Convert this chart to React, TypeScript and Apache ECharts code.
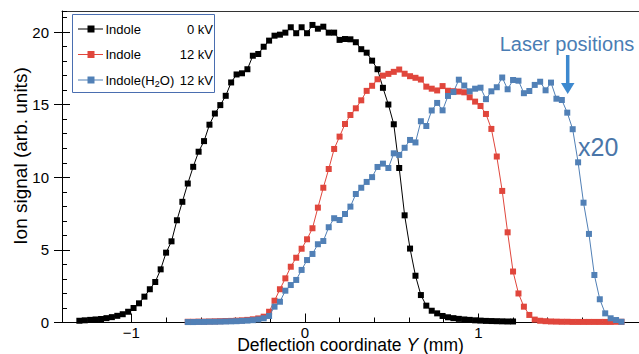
import React, { useEffect, useRef } from "react";
import * as echarts from "echarts";

// Scan positions (mm) shared by the three measurements
const scanPositionsMm = [
  -1.3, -1.26875, -1.2375, -1.20625, -1.175, -1.14375, -1.1125, -1.08125, -1.05, -1.01875,
  -0.9875, -0.95625, -0.925, -0.89375, -0.8625, -0.83125, -0.8, -0.76875, -0.7375, -0.70625,
  -0.675, -0.64375, -0.6125, -0.58125, -0.55, -0.51875, -0.4875, -0.45625, -0.425, -0.39375,
  -0.3625, -0.33125, -0.3, -0.26875, -0.2375, -0.20625, -0.175, -0.14375, -0.1125, -0.08125,
  -0.05, -0.01875, 0.0125, 0.04375, 0.075, 0.10625, 0.1375, 0.16875, 0.2, 0.23125,
  0.2625, 0.29375, 0.325, 0.35625, 0.3875, 0.41875, 0.45, 0.48125, 0.5125, 0.54375,
  0.575, 0.60625, 0.6375, 0.66875, 0.7, 0.73125, 0.7625, 0.79375, 0.825, 0.85625,
  0.8875, 0.91875, 0.95, 0.98125, 1.0125, 1.04375, 1.075, 1.10625, 1.1375, 1.16875,
  1.2, 1.23125, 1.2625, 1.29375, 1.325, 1.35625, 1.3875, 1.41875, 1.45, 1.48125,
  1.5125, 1.54375, 1.575, 1.60625, 1.6375, 1.66875, 1.7, 1.73125, 1.7625, 1.79375,
  1.825,
];

// Indole 0 kV: scan positions 0..80
const indole0kV = [
  0.12, 0.15, 0.18, 0.21, 0.24, 0.3, 0.37, 0.46, 0.57, 0.74,
  1.0, 1.32, 1.78, 2.29, 2.79, 3.66, 4.81, 5.59, 7.04, 8.31,
  9.57, 10.72, 11.76, 12.49, 13.62, 14.39, 14.97, 15.61, 16.53, 17.08,
  17.16, 17.44, 18.37, 18.49, 18.99, 19.41, 19.75, 19.82, 19.96, 20.33,
  19.92, 20.33, 19.92, 20.49, 20.23, 20.37, 19.96, 19.96, 19.46, 19.52,
  19.5, 19.3, 18.82, 18.58, 18.03, 17.44, 16.16, 15.01, 13.65, 10.64,
  7.38, 5.09, 3.22, 1.89, 1.16, 0.81, 0.63, 0.45, 0.36, 0.3,
  0.25, 0.21, 0.18, 0.15, 0.13, 0.11, 0.1, 0.09, 0.08, 0.07, 0.07,
];

// Indole 12 kV: scan positions 20..100
const indole12kV = [
  0.05, 0.05, 0.06, 0.06, 0.07, 0.08, 0.09, 0.1, 0.11, 0.13,
  0.15, 0.18, 0.22, 0.28, 0.4, 0.74, 1.5, 2.29, 3.04, 3.84,
  4.46, 5.08, 5.73, 6.49, 7.91, 9.28, 10.57, 11.95, 12.8, 13.67,
  14.29, 14.75, 15.3, 15.95, 16.3, 16.75, 17.0, 17.12, 17.26, 17.42,
  17.13, 16.96, 16.85, 16.73, 16.24, 16.1, 15.98, 16.28, 15.96, 15.93,
  15.9, 15.85, 15.51, 15.21, 14.91, 14.36, 13.33, 11.43, 9.06, 6.21,
  3.51, 2.0, 1.09, 0.52, 0.2, 0.12, 0.09, 0.07, 0.06, 0.05,
  0.05, 0.04, 0.04, 0.04, 0.04, 0.04, 0.04, 0.04, 0.04, 0.05, 0.05,
];

// Indole(H2O) 12 kV (x20): scan positions 20..100
const indoleWater12kV = [
  0.03, 0.03, 0.04, 0.04, 0.05, 0.05, 0.06, 0.07, 0.08, 0.09,
  0.11, 0.13, 0.16, 0.21, 0.29, 0.45, 1.09, 1.43, 2.19, 2.58,
  2.93, 3.62, 4.3, 4.72, 5.39, 5.61, 6.56, 7.18, 7.06, 7.47,
  7.98, 8.85, 9.28, 9.68, 10.01, 10.71, 10.94, 10.64, 11.65, 11.54,
  12.03, 12.57, 12.4, 13.86, 13.53, 14.6, 15.12, 14.61, 15.6, 15.87,
  16.72, 16.32, 15.92, 16.1, 16.17, 15.38, 15.92, 16.2, 16.87, 16.06,
  16.7, 16.65, 15.79, 15.94, 16.36, 16.58, 15.99, 16.52, 15.41, 15.32,
  14.45, 13.31, 11.03, 8.25, 6.1, 3.27, 1.6, 0.63, 0.29, 0.17, 0.05,
];

const shiftedStart = 20;
const xMajorTicks = [-1, 0, 1];
const yMajorTicks = [0, 5, 10, 15, 20];
const seriesNames = ["Indole 0 kV", "Indole 12 kV", "Indole(H2O) 12 kV"];
const legendVoltages = ["0 kV", "12 kV", "12 kV"];

const X_MIN = -1.4;
const X_MAX = 1.926;
const Y_MIN = 0;
const Y_MAX = 21.45;

const FONT = '"Liberation Sans", Arial, Helvetica, sans-serif';
const BLACK = "#000000";
const RED = "#e0463c";
const BLUE = "#5180b6";
const colors = [BLACK, RED, BLUE];

const GRID = { left: 62, top: 11, width: 577, height: 311.5 };

export default function App() {
  const ref = useRef<HTMLDivElement>(null);

  useEffect(() => {
    const chart = echarts.init(ref.current!, null, { renderer: "svg" });

    const d0 = indole0kV.map((v, i) => [scanPositionsMm[i], v]);
    const d1 = indole12kV.map((v, i) => [scanPositionsMm[i + shiftedStart], v]);
    const d2 = indoleWater12kV.map((v, i) => [scanPositionsMm[i + shiftedStart], v]);
    const datasets = [d0, d1, d2];

    const baseX = {
      type: "value",
      min: X_MIN,
      max: X_MAX,
      splitLine: { show: false },
    };
    const baseY = {
      type: "value",
      min: Y_MIN,
      max: Y_MAX,
      splitLine: { show: false },
    };

    const legendRows = [29, 54.5, 80];
    const legendGraphics: any[] = [
      {
        type: "rect",
        shape: { x: 72.5, y: 14.5, width: 142, height: 78 },
        style: { fill: "#ffffff", stroke: "#4a6eb0", lineWidth: 1 },
        z: 10,
      },
    ];
    legendRows.forEach((y, i) => {
      legendGraphics.push({
        type: "line",
        shape: { x1: 78, y1: y, x2: 103, y2: y },
        style: { stroke: colors[i], lineWidth: 1 },
        z: 11,
      });
      legendGraphics.push({
        type: "rect",
        shape: { x: 87.5, y: y - 3.5, width: 7, height: 7 },
        style: { fill: colors[i] },
        z: 12,
      });
      legendGraphics.push({
        type: "text",
        x: 213,
        y,
        style: {
          text: legendVoltages[i],
          align: "right",
          verticalAlign: "middle",
          fontSize: 13,
          fontFamily: FONT,
          fill: "#000",
        },
        z: 12,
      });
    });
    const lt = { fontSize: 13, fontFamily: FONT, fill: "#000", verticalAlign: "middle" };
    legendGraphics.push(
      { type: "text", x: 105.5, y: legendRows[0], style: { ...lt, text: "Indole" }, z: 12 },
      { type: "text", x: 105.5, y: legendRows[1], style: { ...lt, text: "Indole" }, z: 12 },
      { type: "text", x: 105.5, y: legendRows[2], style: { ...lt, text: "Indole(H" }, z: 12 },
      {
        type: "text",
        x: 154.8,
        y: legendRows[2] + 4,
        style: { ...lt, fontSize: 9, text: "2" },
        z: 12,
      },
      { type: "text", x: 159.8, y: legendRows[2], style: { ...lt, text: "O)" }, z: 12 }
    );

    const option: any = {
      animation: false,
      backgroundColor: "#ffffff",
      grid: [GRID, GRID, GRID].map((g) => ({
        ...g,
        containLabel: false,
        outerBoundsMode: "none",
      })),
      xAxis: [
        {
          ...baseX,
          gridIndex: 0,
          position: "bottom",
          interval: 0.2,
          axisLine: { show: true, onZero: false, lineStyle: { color: "#000", width: 1 } },
          axisTick: { show: true, inside: true, length: 5, lineStyle: { color: "#000", width: 1 } },
          axisLabel: { show: false },
        },
        {
          ...baseX,
          gridIndex: 1,
          position: "bottom",
          axisLine: { show: false, onZero: false },
          axisTick: {
            show: true,
            inside: true,
            length: 9,
            customValues: xMajorTicks,
            lineStyle: { color: "#000", width: 1 },
          },
          axisLabel: {
            show: true,
            customValues: xMajorTicks,
            margin: 3.5,
            fontSize: 15,
            lineHeight: 12,
            fontFamily: FONT,
            color: "#000",
            formatter: (v: number) => (v < 0 ? "\u2212" + Math.abs(v) : String(v)),
          },
          name: "Deflection coordinate {i|Y} (mm)",
          nameLocation: "middle",
          nameGap: 15,
          nameMoveOverlap: false,
          nameTextStyle: {
            fontSize: 17.5,
            lineHeight: 14,
            fontFamily: FONT,
            color: "#000",
            rich: {
              i: {
                fontSize: 17.5,
                lineHeight: 14,
                fontFamily: FONT,
                fontStyle: "italic",
                color: "#000",
              },
            },
          },
        },
        {
          ...baseX,
          gridIndex: 2,
          position: "top",
          axisLine: { show: true, onZero: false, lineStyle: { color: "#333", width: 1 } },
          axisTick: { show: false },
          axisLabel: { show: false },
        },
      ],
      yAxis: [
        {
          ...baseY,
          gridIndex: 0,
          position: "left",
          interval: 1,
          axisLine: { show: true, onZero: false, lineStyle: { color: "#000", width: 1 } },
          axisTick: { show: true, inside: true, length: 5, lineStyle: { color: "#000", width: 1 } },
          axisLabel: { show: false },
        },
        {
          ...baseY,
          gridIndex: 1,
          position: "left",
          axisLine: { show: false, onZero: false },
          axisTick: {
            show: true,
            inside: true,
            length: 8,
            customValues: yMajorTicks,
            lineStyle: { color: "#000", width: 1 },
          },
          axisLabel: {
            show: true,
            customValues: yMajorTicks,
            margin: 13,
            fontSize: 15,
            fontFamily: FONT,
            color: "#000",
          },
        },
        {
          ...baseY,
          gridIndex: 2,
          position: "left",
          axisLine: { show: false, onZero: false },
          axisTick: {
            show: true,
            inside: false,
            length: 8,
            customValues: yMajorTicks,
            lineStyle: { color: "#000", width: 1 },
          },
          axisLabel: { show: false },
        },
      ],
      series: datasets.map((data, i) => ({
        type: "line",
        name: seriesNames[i],
        xAxisIndex: 0,
        yAxisIndex: 0,
        data,
        symbol: "rect",
        symbolSize: 6,
        showSymbol: true,
        showAllSymbol: true,
        clip: false,
        z: 3 + i,
        lineStyle: { color: colors[i], width: 1 },
        itemStyle: { color: colors[i] },
        emphasis: { disabled: true },
      })),
      graphic: [
        ...legendGraphics,
        {
          type: "text",
          x: 20,
          y: 156,
          rotation: Math.PI / 2,
          style: {
            text: "Ion signal (arb. units)",
            align: "center",
            verticalAlign: "middle",
            fontSize: 19,
            fontFamily: FONT,
            fill: "#000",
          },
        },
        {
          type: "text",
          x: 567,
          y: 44,
          style: {
            text: "Laser positions",
            align: "center",
            verticalAlign: "middle",
            fontSize: 20,
            fontFamily: FONT,
            fill: "#4a7db4",
          },
        },
        {
          type: "line",
          shape: { x1: 567.7, y1: 55, x2: 567.7, y2: 85 },
          style: { stroke: "#3d89cf", lineWidth: 3.5 },
        },
        {
          type: "polygon",
          shape: { points: [[561, 83], [574.5, 83], [567.7, 94]] },
          style: { fill: "#3d89cf" },
        },
        {
          type: "text",
          x: 578,
          y: 146.5,
          style: {
            text: "x20",
            align: "left",
            verticalAlign: "middle",
            fontSize: 25,
            fontFamily: FONT,
            fill: "#4a76a9",
          },
        },
      ],
    };

    chart.setOption(option);
    return () => chart.dispose();
  }, []);

  return (
    <div
      ref={ref}
      style={{ position: "fixed", left: 0, top: 0, width: 639, height: 354, background: "#fff" }}
    />
  );
}
